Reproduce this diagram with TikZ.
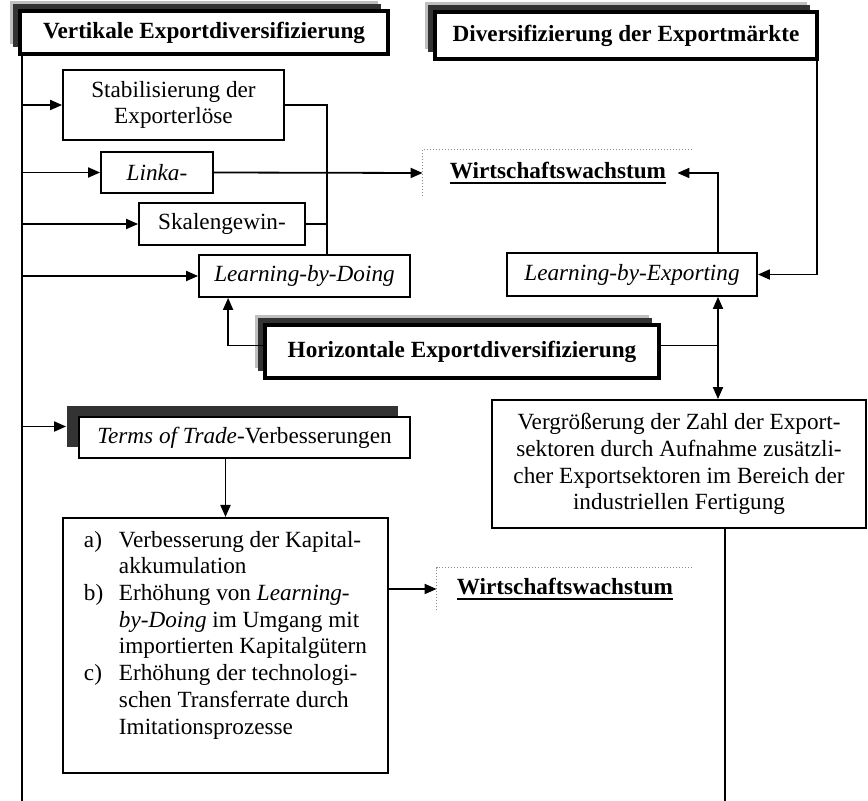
\documentclass[tikz,border=0pt]{standalone}
\usepackage{fontspec}
\setmainfont{Liberation Serif}
\usetikzlibrary{arrows.meta, positioning, shadows}

\newcommand{\thickul}[1]{\setbox0\hbox{#1}\rlap{\rule[-2.4pt]{\wd0}{0.9pt}}\box0}

\begin{document}
\begin{tikzpicture}[
    x=0.5pt, y=-0.5pt,
    execute at begin picture={\fontsize{11.6}{13.35}\selectfont},
    box/.style={draw, line width=0.9pt, align=center, inner sep=0pt, fill=white},
    head/.style={box, line width=2pt, font=\bfseries,
                 drop shadow={shadow xshift=-4.8pt, shadow yshift=4.8pt, fill=black!25, opacity=1},
                 drop shadow={shadow xshift=-3.3pt, shadow yshift=3.3pt, fill=black!80, opacity=1}},
    goal/.style={inner sep=0pt, font=\bfseries},
    corner/.style={draw=black!45, line width=0.5pt, densely dotted},
    line/.style={line width=0.9pt},
    arr/.style={line, -{Triangle[length=6pt, width=5pt]}},
    twoarr/.style={line, {Triangle[length=6pt, width=5pt]}-{Triangle[length=6pt, width=5pt]}}
]
\useasboundingbox (0,0) rectangle (868,801);

% headings
\node[head, minimum width=184pt, minimum height=21.5pt] (vert) at (204,32.5) {Vertikale Exportdiversifizierung};
\node[head, minimum width=191pt, minimum height=23.5pt] (div) at (626,35.5) {Diversifizierung der Exportmärkte};
\node[head, minimum width=197pt, minimum height=26.5pt] (horiz) at (462,351.5) {Horizontale Exportdiversifizierung};

% effects
\node[box, minimum width=110.5pt, minimum height=35pt] (stab) at (173.5,105) {Stabilisierung der\\Exporterlöse};
\node[box, minimum width=56pt, minimum height=20.5pt] (link) at (157,172.5) {\textit{Linka-}};
\node[box, minimum width=83pt, minimum height=21pt] (skal) at (222,224) {Skalengewin-};
\node[box, minimum width=105.5pt, minimum height=21pt] (lbd) at (304.5,276) {\textit{Learning-by-Doing}};
\node[box, minimum width=125pt, minimum height=21.5pt] (lbe) at (632,274.5) {\textit{Learning-by-Exporting}};
\node[box, minimum width=187pt, minimum height=64pt] (verg) at (679,464)
    {Vergrößerung der Zahl der Export-\\sektoren durch Aufnahme zusätzli-\\cher Exportsektoren im Bereich der\\industriellen Fertigung};
\node[box, minimum width=165.5pt, minimum height=20.5pt,
      drop shadow={shadow xshift=-6pt, shadow yshift=5.5pt, fill=black!80, opacity=1}] (terms) at (244.5,437.5)
    {\textit{Terms of Trade}-Verbesserungen};
\node[box, line width=1.2pt, anchor=north, minimum width=162.5pt, text height=14.5pt, text depth=113pt] (abc) at (225.5,517)
    {\begin{tabular}[t]{@{}p{17.5pt}@{}l@{}}
     a) & Verbesserung der Kapital-\\
        & akkumulation\\
     b) & Erhöhung von \textit{Learning-}\\
        & \textit{by-Doing} im Umgang mit\\
        & importierten Kapitalgütern\\
     c) & Erhöhung der technologi-\\
        & schen Transferrate durch\\
        & Imitationsprozesse
     \end{tabular}};

% growth
\node[goal, minimum width=135pt, minimum height=23pt] (wu) at (558,173) {\thickul{Wirtschaftswachstum}};
\node[goal, minimum width=128pt, minimum height=21pt] (wl) at (565,589) {\thickul{Wirtschaftswachstum}};
\draw[corner] (wu.south west) |- (wu.north east);
\draw[corner] (wl.south west) |- (wl.north east);

\coordinate (vbot) at (22,801);
\coordinate (bus) at (327,0);
\coordinate (rbus) at (718,0);
\coordinate (rbot) at (725,801);

% connectors
\draw[line] (vert.south west -| vbot) -- (vbot);
\foreach \n in {stab, link, skal, lbd} \draw[arr] (vbot |- \n.west) -- (\n.west);
\draw[arr] ([yshift=5.5pt]terms.west -| vbot) -- ([shift={(-6pt,5.5pt)}]terms.west);
\draw[line] (stab.east) -| (bus |- lbd.north);
\draw[line] (skal.east) -- (bus |- skal.east);
\draw[arr] (link.east) -- (wu.west);
\draw[arr] (rbus |- lbe.north) |- ([xshift=-8pt]wu.east);
\draw[arr] ([xshift=-1pt]div.south east) |- (lbe.east);
\draw[arr] ([yshift=3pt]horiz.west) -| ([xshift=15pt]lbd.south west);
\draw[line] ([yshift=3pt]horiz.east) coordinate (h) -- (h -| rbus);
\draw[twoarr] (rbus |- lbe.south) -- (rbus |- verg.north);
\draw[line] (verg.south -| rbot) -- (rbot);
\draw[arr] (terms.south -| abc.north) -- (abc.north);
\draw[arr] (abc.east |- wl.west) -- (wl.west);
\end{tikzpicture}
\end{document}
